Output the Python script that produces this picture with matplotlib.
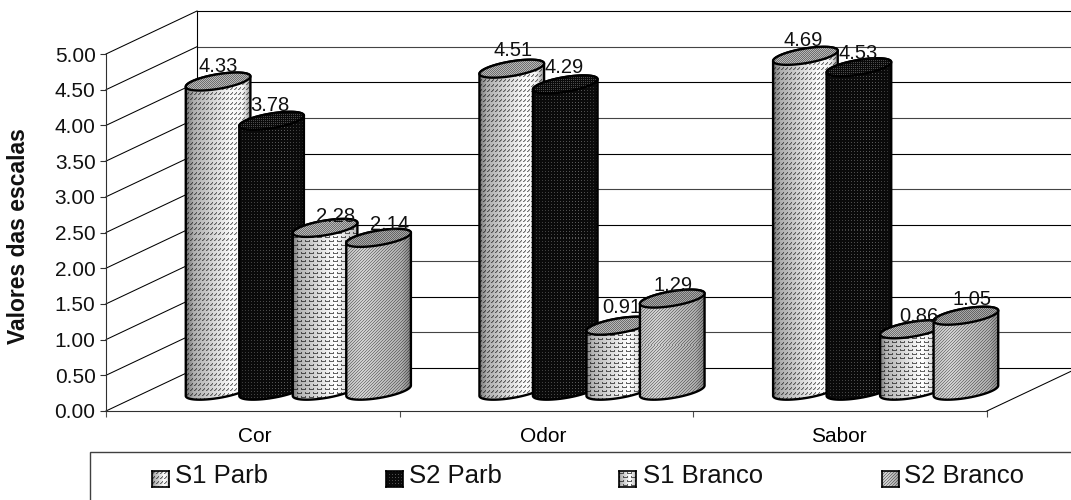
import numpy as np
import matplotlib
matplotlib.use("Agg")
import matplotlib.pyplot as plt
from matplotlib.patches import Polygon, Rectangle

plt.rcParams['font.family'] = ['Liberation Sans', 'DejaVu Sans']

categories = ['Cor', 'Odor', 'Sabor']
series_names = ['S1 Parb', 'S2 Parb', 'S1 Branco', 'S2 Branco']
s1_parb = [4.33, 4.51, 4.69]
s2_parb = [3.78, 4.29, 4.53]
s1_branco = [2.28, 0.91, 0.86]
s2_branco = [2.14, 1.29, 1.05]
series_values = [s1_parb, s2_parb, s1_branco, s2_branco]
y_ticks = [0, .5, 1, 1.5, 2, 2.5, 3, 3.5, 4, 4.5, 5]

W, H = 1071, 500
fig = plt.figure(figsize=(W / 100, H / 100), dpi=100)
L, R, T, B = 106, 987, 54, 411
px_x = 3 / (R - L)
px_y = 5 / (B - T)
ax = fig.add_axes([0, 0, 1, 1])
ax.set_xlim(-L * px_x, (W - L) * px_x)
ax.set_ylim(-(H - B) * px_y, B * px_y)
ax.set_zorder(2)
ax.patch.set_alpha(0)
DX, DY = 91 * px_x, 43 * px_y  # depth vector in data units
XMAX = (W - L) * px_x

for s in ['top', 'right']:
    ax.spines[s].set_visible(False)
ax.spines['left'].set_position(('data', 0))
ax.spines['bottom'].set_position(('data', 0))
ax.spines['left'].set_bounds(0, 5)
ax.spines['bottom'].set_bounds(0, 3)
for s in ['left', 'bottom']:
    ax.spines[s].set_color('#303030')
    ax.spines[s].set_linewidth(0.8)
ax.set_xticks([0, 1, 2, 3])
ax.set_xticklabels([])
ax.set_yticks(y_ticks)
ax.set_yticklabels([f'{v:.2f}' for v in y_ticks], fontsize=15)
ax.tick_params(axis='y', length=4.3, width=0.8, pad=3.2, color='#303030', labelcolor='#111111')
ax.tick_params(axis='x', length=4.3, width=0.8, color='#505050')
cat_dx = [2, -3, -1]
for i, c in enumerate(categories):
    ax.annotate(c, xy=(i + .5, 0), xytext=(cat_dx[i], -26), textcoords='offset pixels',
                ha='center', va='center', fontsize=15, annotation_clip=False)
ax.text(-(L - 19) * px_x, (B - 236) * px_y, 'Valores das escalas', rotation=90, fontsize=16.5,
        fontweight='bold', ha='center', va='center', color='#111111')

# walls, floor and gridlines
for v in y_ticks:
    ax.plot([0, DX], [v, v + DY], color='black', lw=0.75, zorder=1)
    ax.plot([DX, XMAX], [v + DY, v + DY], color='black' if v * 2 % 2 == 0 else '#444444',
            lw=0.8, zorder=1)
ax.plot([DX, DX], [DY, 5 + DY], color='black', lw=0.8, zorder=1)
ax.plot([3, 3 + DX], [0, DY], color='black', lw=0.75, zorder=1)


def tile(kind, h, w, top=False):
    yy, xx = np.mgrid[0:h, 0:w]
    u = (xx + .5) / w
    if top:
        base = {0: .72, 1: .12, 2: .72, 3: .66}[kind]
        chk = (xx + yy) % 2 == 0
        g = np.where(chk, base, base * .6)
        if kind == 1:
            g = np.where((xx % 2 == 0) & (yy % 2 == 0), .3, .04)
        return g
    if kind == 0:
        sh = np.interp(u, [0, .12, .7, .88, 1], [.45, .68, .98, .95, .6])
        m = ((yy % 5 == 0) & (xx % 4 == 2)) | ((yy % 5 == 1) & (xx % 4 == 1)) | ((yy % 5 == 2) & (xx % 4 == 0))
        n = ((yy % 5 == 1) & (xx % 4 == 2)) | ((yy % 5 == 2) & (xx % 4 == 1))
        return sh * np.where(m, .45, np.where(n, .72, 1))
    if kind == 1:
        sh = np.interp(u, [0, .7, 1], [.6, 1, .5])
        m = (xx % 3 == 0) & (yy % 3 == 0)
        return np.where(m, .36 * sh, .04)
    if kind == 2:
        sh = np.interp(u, [0, .1, .65, 1], [.48, .7, 1, .72])
        r = yy % 8
        off = (yy // 4 % 2) * 4
        px = (xx + off) % 8
        m = ((r % 4 == 2) & (px < 5)) | ((r % 4 == 1) & ((px == 0) | (px == 4)))
        return sh * np.where(m, .4, 1)
    sh = np.interp(u, [0, .25, .85, 1], [.75, .82, .68, .5])
    m = (xx + yy) % 3 == 0
    return sh * np.where(m, .62, 1)


# ellipse geometry, in data units
R1 = 26.5 * px_x
R2X, R2Y = 18.5 * px_x, 9 * px_y
OFFS = np.array([-1.5, -.5, .5, 1.5]) * 53.5 * px_x
T0 = np.arctan2(-R2X, -R1)  # angle of leftmost point
BASE = DY / 2 - 1.2 * px_y


def arc(cx, y, a, b, n=50):
    t = np.linspace(a, b, n)
    return np.c_[cx + R1 * np.cos(t) + R2X * np.sin(t), y + R2Y * np.sin(t)]


def textured(poly_xy, kind, z, top=False):
    x0, x1 = poly_xy[:, 0].min(), poly_xy[:, 0].max()
    y0, y1 = poly_xy[:, 1].min(), poly_xy[:, 1].max()
    w = max(int(round((x1 - x0) / px_x)), 2)
    h = max(int(round((y1 - y0) / px_y)), 2)
    im = ax.imshow(tile(kind, h, w, top), cmap='gray', vmin=0, vmax=1, extent=[x0, x1, y0, y1],
                   aspect='auto', interpolation='nearest', zorder=z)
    p = Polygon(poly_xy, closed=True, fc='none', ec='black', lw=1.7, zorder=z + .1, joinstyle='round')
    ax.add_patch(p)
    im.set_clip_path(p)


label_dx = [[0, -2, 10, 11], [1, -1, 3, 1], [-2, -1, 6, 6]]
label_dy = [[15, 15, 11, 13], [18, 17, 18, 13], [15, 14, 13, 16]]
z = 3
for s, vals in enumerate(series_values):
    for i, v in enumerate(vals):
        cx = i + .5 + OFFS[s] + DX / 2
        ytop = BASE + v
        upper = arc(cx, ytop, T0 + 2 * np.pi, T0 + np.pi)    # left -> over top -> right
        lower = arc(cx, BASE, T0 + np.pi, T0)                # right -> under -> left
        body = np.r_[upper, lower]
        textured(body, s, z)
        ell = arc(cx, ytop, 0, 2 * np.pi, 80)
        textured(ell, s, z + .2, top=True)
        z += 1
for s, vals in enumerate(series_values):
    for i, v in enumerate(vals):
        cx = i + .5 + OFFS[s] + DX / 2
        ax.annotate(f'{v:.2f}', xy=(cx, BASE + v), xytext=(label_dx[i][s], label_dy[i][s]),
                    textcoords='offset pixels', ha='center', va='center', fontsize=14.5,
                    color='#111111', zorder=50, annotation_clip=False)
ax.set_xlim(-L * px_x, (W - L) * px_x)
ax.set_ylim(-(H - B) * px_y, B * px_y)

# legend frame and entries
fr = Rectangle((90 / W, -0.1), (W + 50 - 90) / W, 0.1 + 1 - 452 / H, transform=fig.transFigure,
               fc='white', ec='#404040', lw=1.0, zorder=1)
fig.add_artist(fr)
swatch_x = [152, 386, 619, 882]
text_x = [175, 409, 643, 904]
for s, name in enumerate(series_names):
    axs = fig.add_axes([swatch_x[s] / W, 1 - 487 / H, 17 / W, 16 / H])
    axs.set_zorder(5)
    axs.imshow(tile(s, 16, 17), cmap='gray', vmin=0, vmax=1, aspect='auto', interpolation='nearest')
    axs.set_xticks([]); axs.set_yticks([])
    for sp in axs.spines.values():
        sp.set_linewidth(1.2)
    t = fig.text(text_x[s] / W, 1 - 476 / H, name, fontsize=18.5, ha='left', va='center', color='#111111')
    t.set_zorder(6)

fig.savefig('out.png', dpi=100)
